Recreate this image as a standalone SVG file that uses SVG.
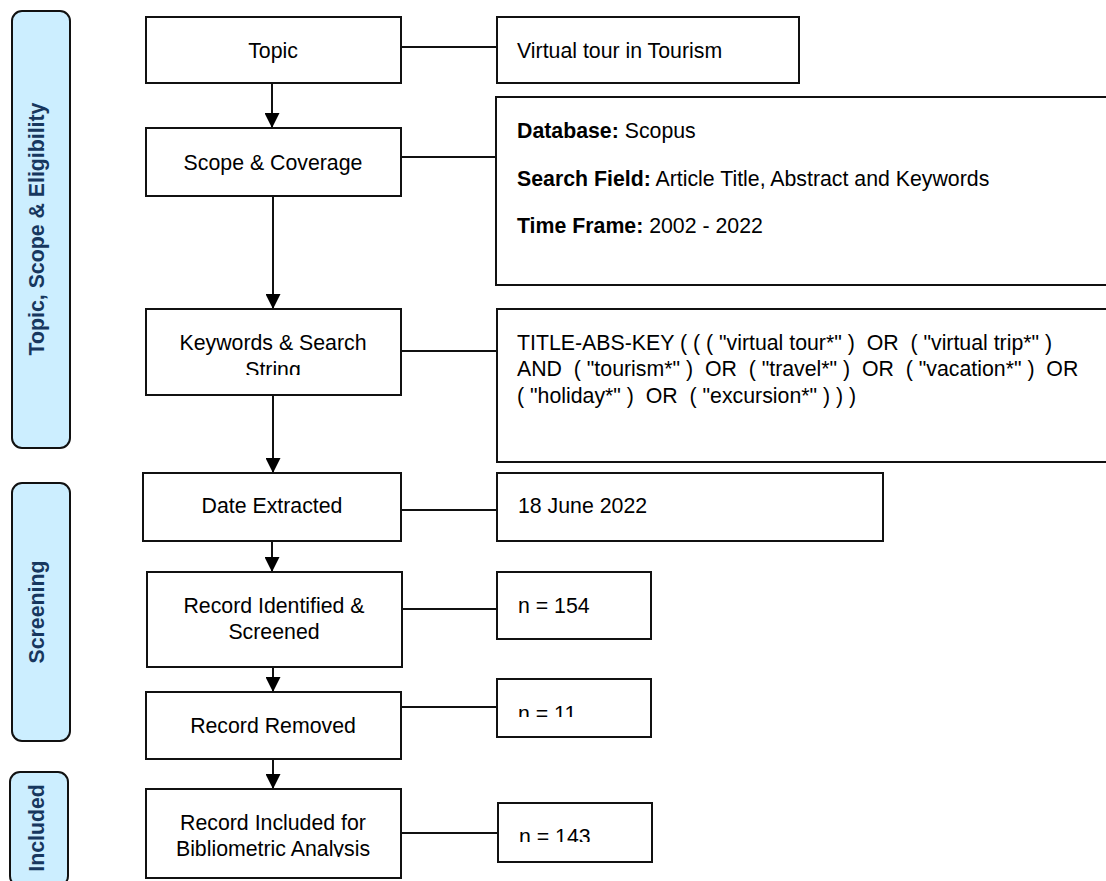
<svg xmlns="http://www.w3.org/2000/svg" width="1106" height="881" viewBox="0 0 1106 881">
  <defs>
    <style>
      .box { fill: #ffffff; stroke: #111111; stroke-width: 2; }
      .panel { fill: #cceeff; stroke: #111111; stroke-width: 2; }
      .t { font-family: "Liberation Sans", Arial, sans-serif; font-size: 21.3px; fill: #000000; }
      .c { text-anchor: middle; }
      .b { font-weight: bold; }
      .pl { font-family: "Liberation Sans", Arial, sans-serif; font-size: 21.3px; font-weight: bold; fill: #17375e; text-anchor: middle; }
      .ln { stroke: #111111; stroke-width: 2; fill: none; }
    </style>
    <marker id="ah" markerUnits="userSpaceOnUse" markerWidth="16" markerHeight="15" refX="15" refY="7.5" orient="auto" viewBox="0 0 16 15">
      <path d="M0,0 L15,7.5 L0,15 Z" fill="#000000"/>
    </marker>
    <clipPath id="clipKw"><rect x="146" y="309" width="256" height="66"/></clipPath>
    <clipPath id="clipN11"><rect x="497" y="679" width="154" height="38"/></clipPath>
    <clipPath id="clipInc"><rect x="146" y="789" width="256" height="68"/></clipPath>
    <clipPath id="clipN143"><rect x="497" y="803" width="154" height="39"/></clipPath>
  </defs>

  <g id="panel-topic">
    <rect class="panel" x="12" y="11" width="58" height="437" rx="10"/>
    <text class="pl" transform="translate(44,229) rotate(-90)">Topic, Scope &amp; Eligibility</text>
  </g>
  <g id="panel-screening">
    <rect class="panel" x="12" y="483" width="58" height="258" rx="10"/>
    <text class="pl" transform="translate(44,612) rotate(-90)">Screening</text>
  </g>
  <g id="panel-included">
    <rect class="panel" x="10" y="772" width="58" height="114" rx="10"/>
    <text class="pl" transform="translate(44,828) rotate(-90)">Included</text>
  </g>

  <g id="connectors">
    <line class="ln" x1="401" y1="47" x2="497" y2="47"/>
    <line class="ln" x1="401" y1="157" x2="496" y2="157"/>
    <line class="ln" x1="401" y1="351" x2="497" y2="351"/>
    <line class="ln" x1="401" y1="510" x2="497" y2="510"/>
    <line class="ln" x1="402" y1="609" x2="497" y2="609"/>
    <line class="ln" x1="401" y1="707" x2="497" y2="707"/>
    <line class="ln" x1="401" y1="833" x2="497" y2="833"/>
    <line class="ln" x1="272" y1="83" x2="272" y2="128" marker-end="url(#ah)"/>
    <line class="ln" x1="273" y1="196" x2="273" y2="309" marker-end="url(#ah)"/>
    <line class="ln" x1="273" y1="395" x2="273" y2="473" marker-end="url(#ah)"/>
    <line class="ln" x1="272" y1="541" x2="272" y2="572" marker-end="url(#ah)"/>
    <line class="ln" x1="273" y1="667" x2="273" y2="692" marker-end="url(#ah)"/>
    <line class="ln" x1="273" y1="759" x2="273" y2="789" marker-end="url(#ah)"/>
  </g>

  <g id="node-topic">
    <rect class="box" x="146" y="17" width="255" height="66"/>
    <text class="t c" x="273" y="58">Topic</text>
  </g>
  <g id="node-topic-detail">
    <rect class="box" x="497" y="17" width="302" height="66"/>
    <text class="t" x="517" y="58">Virtual tour in Tourism</text>
  </g>

  <g id="node-scope">
    <rect class="box" x="146" y="128" width="255" height="68"/>
    <text class="t c" x="273" y="170">Scope &amp; Coverage</text>
  </g>
  <g id="node-scope-detail">
    <rect class="box" x="496" y="97" width="620" height="188"/>
    <text class="t" x="517" y="138"><tspan class="b">Database:</tspan> Scopus</text>
    <text class="t" x="517" y="186"><tspan class="b">Search Field:</tspan> Article Title, Abstract and Keywords</text>
    <text class="t" x="517" y="233"><tspan class="b">Time Frame:</tspan> 2002 - 2022</text>
  </g>

  <g id="node-keywords">
    <rect class="box" x="146" y="309" width="255" height="86"/>
    <g clip-path="url(#clipKw)">
      <text class="t c" x="273" y="350">Keywords &amp; Search</text>
      <text class="t c" x="273" y="377">String</text>
    </g>
  </g>
  <g id="node-keywords-detail">
    <rect class="box" x="497" y="309" width="620" height="153"/>
    <text class="t" x="517" y="350" xml:space="preserve">TITLE-ABS-KEY ( ( ( "virtual tour*" )  OR  ( "virtual trip*" )</text>
    <text class="t" x="517" y="376" xml:space="preserve">AND  ( "tourism*" )  OR  ( "travel*" )  OR  ( "vacation*" )  OR</text>
    <text class="t" x="517" y="403" xml:space="preserve">( "holiday*" )  OR  ( "excursion*" ) ) )</text>
  </g>

  <g id="node-date">
    <rect class="box" x="143" y="473" width="258" height="68"/>
    <text class="t c" x="272" y="513">Date Extracted</text>
  </g>
  <g id="node-date-detail">
    <rect class="box" x="497" y="473" width="386" height="68"/>
    <text class="t" x="518" y="513">18 June 2022</text>
  </g>

  <g id="node-identified">
    <rect class="box" x="147" y="572" width="255" height="95"/>
    <text class="t c" x="274" y="613">Record Identified &amp;</text>
    <text class="t c" x="274" y="639">Screened</text>
  </g>
  <g id="node-identified-detail">
    <rect class="box" x="497" y="572" width="154" height="67"/>
    <text class="t" x="518" y="613">n = 154</text>
  </g>

  <g id="node-removed">
    <rect class="box" x="146" y="692" width="255" height="67"/>
    <text class="t c" x="273" y="733">Record Removed</text>
  </g>
  <g id="node-removed-detail">
    <rect class="box" x="497" y="679" width="154" height="58"/>
    <text class="t" x="518" y="721" clip-path="url(#clipN11)">n = 11</text>
  </g>

  <g id="node-included">
    <rect class="box" x="146" y="789" width="255" height="89"/>
    <g clip-path="url(#clipInc)">
      <text class="t c" x="273" y="830">Record Included for</text>
      <text class="t c" x="273" y="856">Bibliometric Analysis</text>
    </g>
  </g>
  <g id="node-included-detail">
    <rect class="box" x="498" y="803" width="154" height="59"/>
    <text class="t" x="519" y="844" clip-path="url(#clipN143)">n = 143</text>
  </g>
</svg>
